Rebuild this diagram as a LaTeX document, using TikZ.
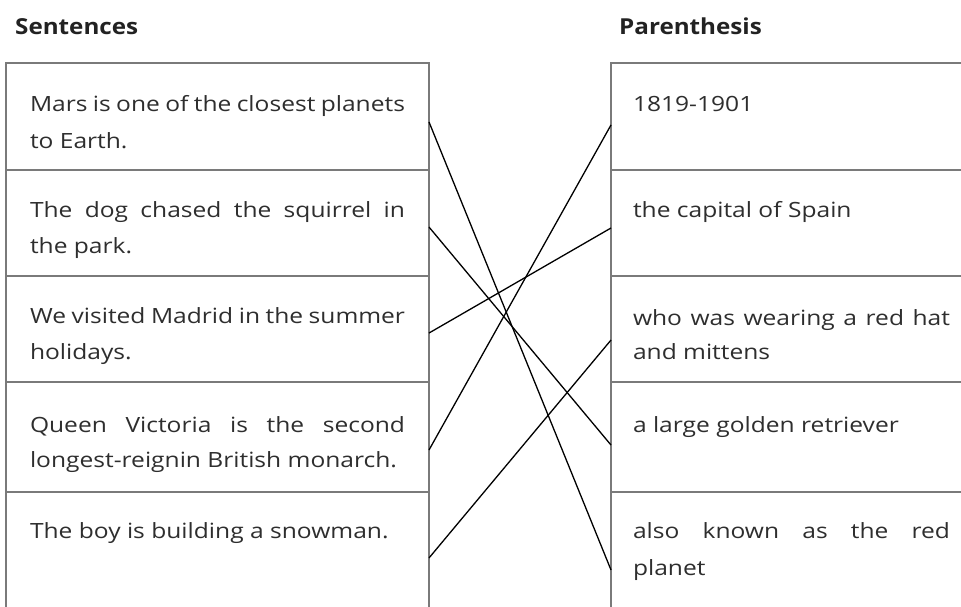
\documentclass[tikz,border=0pt]{standalone}
\usepackage{fontspec}
\setmainfont[FakeStretch=1.17]{Open Sans}
\newfontfamily\headfont[FakeStretch=1.1]{Open Sans}
\usetikzlibrary{calc}
\definecolor{boxgray}{HTML}{7A7A7A}
\definecolor{txt}{HTML}{2E2E2E}
\definecolor{head}{HTML}{222222}
\tikzset{
  cell/.style={draw=boxgray, line width=2pt, anchor=north west, inner sep=0pt, outer sep=0pt},
  lcell/.style={cell, minimum width=423pt},
  rcell/.style={cell, minimum width=370pt},
  line/.style={anchor=base west, inner sep=0pt, outer sep=0pt, text=txt, font=\fontsize{21}{25}\selectfont},
  heading/.style={anchor=base west, inner sep=0pt, text=head, font=\headfont\fontsize{22}{26}\selectfont\bfseries},
  link/.style={draw=black, line width=1.3pt}
}
\begin{document}
\begin{tikzpicture}[x=1pt,y=-1pt]
\fill[white] (0,0) rectangle (961,606);
\clip (0,0) rectangle (961,606);
% headings
\node[heading] (hs) at (15,34) {Sentences};
\node[heading] (hp) at (619,34) {Parenthesis};
% left cells
\node[lcell, minimum height=107pt] (L1) at (6,63) {};
\node[lcell, minimum height=106pt] (L2) at (6,170) {};
\node[lcell, minimum height=106pt] (L3) at (6,276) {};
\node[lcell, minimum height=110pt] (L4) at (6,382) {};
\node[lcell, minimum height=138pt] (L5) at (6,492) {};
% right cells
\node[rcell, minimum height=107pt] (R1) at (611,63) {};
\node[rcell, minimum height=106pt] (R2) at (611,170) {};
\node[rcell, minimum height=106pt] (R3) at (611,276) {};
\node[rcell, minimum height=110pt] (R4) at (611,382) {};
\node[rcell, minimum height=138pt] (R5) at (611,492) {};
% left texts
\node[line] (l1a) at (30,111) {\makebox[375pt][s]{Mars is one of the closest planets}};
\node[line] (l1b) at (30,148) {to Earth.};
\node[line] (l2a) at (30,217) {\makebox[375pt][s]{The dog chased the squirrel in}};
\node[line] (l2b) at (30,253) {the park.};
\node[line] (l3a) at (30,323) {\makebox[375pt][s]{We visited Madrid in the summer}};
\node[line] (l3b) at (30,359) {holidays.};
\node[line] (l4a) at (30,432) {\makebox[375pt][s]{Queen Victoria is the second}};
\node[line] (l4b) at (30,467) {longest-reignin British monarch.};
\node[line] (l5a) at (30,538) {The boy is building a snowman.};
% right texts
\node[line] (r1a) at (633,111) {1819-1901};
\node[line] (r2a) at (633,217) {the capital of Spain};
\node[line] (r3a) at (633,325) {\makebox[317pt][s]{who was wearing a red hat}};
\node[line] (r3b) at (633,359) {and mittens};
\node[line] (r4a) at (633,432) {a large golden retriever};
\node[line] (r5a) at (633,538) {\makebox[317pt][s]{also known as the red}};
\node[line] (r5b) at (633,575) {planet};
% connectors
\draw[link] ($(L1.north east)!0.551!(L1.south east)$) -- ($(R5.north west)!0.565!(R5.south west)$);
\draw[link] ($(L2.north east)!0.538!(L2.south east)$) -- ($(R4.north west)!0.573!(R4.south west)$);
\draw[link] ($(L3.north east)!0.538!(L3.south east)$) -- ($(R2.north west)!0.547!(R2.south west)$);
\draw[link] ($(L4.north east)!0.618!(L4.south east)$) -- ($(R1.north west)!0.579!(R1.south west)$);
\draw[link] ($(L5.north east)!0.478!(L5.south east)$) -- ($(R3.north west)!0.604!(R3.south west)$);
\end{tikzpicture}
\end{document}
